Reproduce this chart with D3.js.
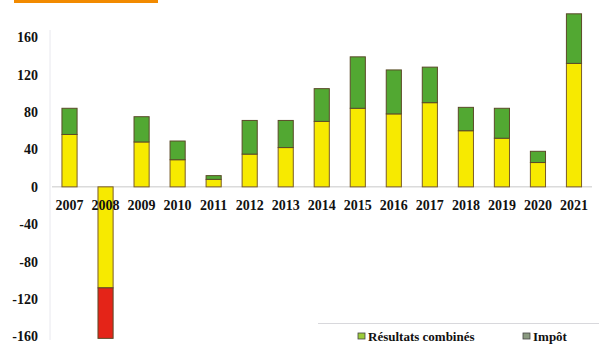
<!DOCTYPE html>
<html>
<head>
<meta charset="utf-8">
<script src="https://cdn.jsdelivr.net/npm/d3@7"></script>
<style>
  body { margin: 0; background: #fff; }
  svg { display: block; }
  text { font-family: "Liberation Serif", "Times New Roman", serif; font-weight: bold; fill: #111; }
</style>
</head>
<body>
<svg width="599" height="344"></svg>
<script>
const years = ["2007","2008","2009","2010","2011","2012","2013","2014","2015","2016","2017","2018","2019","2020","2021"];
const resultats = [56, -108, 48, 29, 8, 35, 42, 70, 84, 78, 90, 60, 52, 26, 132];
const impot = [28, -54, 27, 20, 4, 36, 29, 35, 55, 47, 38, 25, 32, 12, 53];
const yTicks = [-160, -120, -80, -40, 0, 40, 80, 120, 160];
const legendLabels = ["Résultats combinés", "Impôt"];

const svg = d3.select("svg");

// orange header strip
svg.append("rect").attr("x", 14).attr("y", 0).attr("width", 144).attr("height", 3).attr("fill", "#f28a00");

const x = d3.scaleBand().domain(years).range([51.5, 592]).paddingInner(0.58).paddingOuter(0.29);
const y = d3.scaleLinear().domain([-160, 160]).range([336.5, 37.2]);

// faint axis line
svg.append("line").attr("x1", 50).attr("x2", 50).attr("y1", 30).attr("y2", 340)
  .attr("stroke", "#e8e8ee").attr("stroke-width", 1);

// y labels
svg.append("g").selectAll("text")
  .data(yTicks)
  .enter()
  .append("text")
  .attr("x", 38)
  .attr("y", d => y(d))
  .attr("dy", "0.35em")
  .attr("text-anchor", "end")
  .attr("font-size", 14)
  .text(d => d);

// zero line
svg.append("line").attr("x1", 52).attr("x2", 592).attr("y1", y(0)).attr("y2", y(0))
  .attr("stroke", "#c8c8c8").attr("stroke-width", 1);

const rows = years.map((yr, i) => ({ yr, r: resultats[i], t: impot[i] }));

const bars = svg.append("g");
// résultats combinés (yellow)
bars.selectAll("rect.res")
  .data(rows)
  .enter()
  .append("rect")
  .attr("class", "res")
  .attr("x", d => x(d.yr))
  .attr("width", x.bandwidth())
  .attr("y", d => y(Math.max(0, d.r)))
  .attr("height", d => Math.abs(y(d.r) - y(0)))
  .attr("fill", "#f7ea00")
  .attr("stroke", "#7a5c28")
  .attr("stroke-width", 1);

// impôt stacked on top (green, red when negative)
bars.selectAll("rect.imp")
  .data(rows)
  .enter()
  .append("rect")
  .attr("class", "imp")
  .attr("x", d => x(d.yr))
  .attr("width", x.bandwidth())
  .attr("y", d => d.t >= 0 ? y(d.r + d.t) : y(d.r))
  .attr("height", d => Math.abs(y(d.r + d.t) - y(d.r)))
  .attr("fill", d => d.t >= 0 ? "#52a832" : "#e42418")
  .attr("stroke", "#5a4a28")
  .attr("stroke-width", 1);

// x labels
svg.append("g").selectAll("text")
  .data(years)
  .enter()
  .append("text")
  .attr("x", d => x(d) + x.bandwidth() / 2)
  .attr("y", 205)
  .attr("dy", "0.35em")
  .attr("text-anchor", "middle")
  .attr("font-size", 14)
  .text(d => d);

// legend
svg.append("line").attr("x1", 318).attr("x2", 599).attr("y1", 323.5).attr("y2", 323.5)
  .attr("stroke", "#d8d8dc").attr("stroke-width", 1);

const legendX = [358, 523];
const legendFill = ["#9ccc3a", "#8a9a80"];
const lg = svg.append("g").selectAll("g")
  .data(legendLabels)
  .enter()
  .append("g")
  .attr("transform", (d, i) => `translate(${legendX[i]},333)`);
lg.append("rect")
  .attr("width", 7).attr("height", 6)
  .attr("fill", (d, i) => legendFill[i])
  .attr("stroke", "#444").attr("stroke-width", 0.8);
lg.append("text")
  .attr("x", 10).attr("y", 3.5)
  .attr("dy", "0.35em")
  .attr("font-size", 13)
  .text(d => d);
</script>
</body>
</html>
